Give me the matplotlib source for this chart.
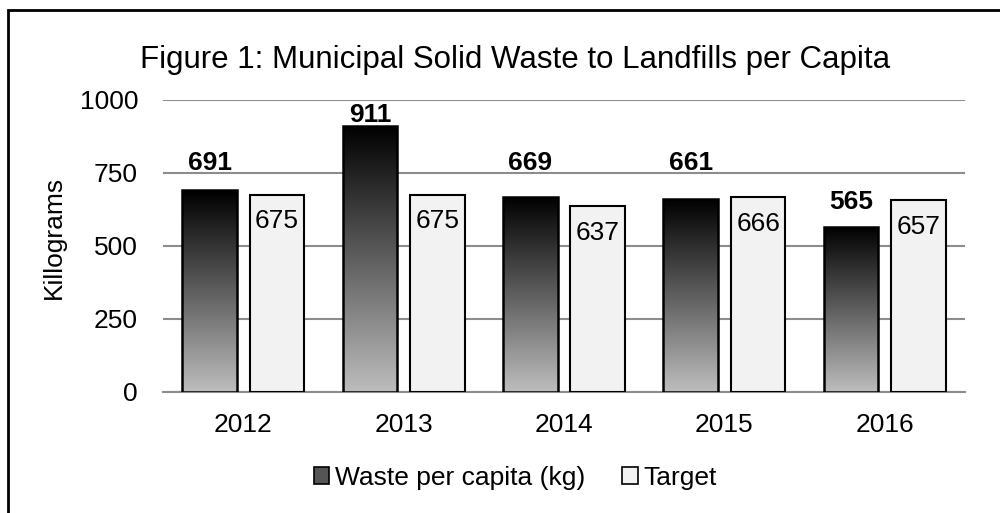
import numpy as np
import matplotlib
matplotlib.use("Agg")
import matplotlib.pyplot as plt
from matplotlib.patches import Rectangle, Patch
from matplotlib.colors import LinearSegmentedColormap

years = ['2012', '2013', '2014', '2015', '2016']
waste = [691, 911, 669, 661, 565]
target = [675, 675, 637, 666, 657]

plt.rcParams['font.family'] = ['Liberation Sans', 'DejaVu Sans']

fig = plt.figure(figsize=(10, 5.13), dpi=100)
ax = fig.add_axes([0.163, 0.2359, 0.802, 0.5693])

x = np.arange(len(years))
width = 0.34
off = 0.21

# gradient from black (top) to light grey (bottom)
grad_cmap = LinearSegmentedColormap.from_list('g', ['#bdbdbd', '#000000'])
gradient = np.linspace(0, 1, 256).reshape(-1, 1)

bars_w = ax.bar(x - off, waste, width, facecolor='none', edgecolor='black', linewidth=1.8, zorder=4)
for b in bars_w:
    bx, by = b.get_x(), b.get_y()
    im = ax.imshow(gradient, cmap=grad_cmap, aspect='auto', origin='lower',
                   extent=[bx, bx + b.get_width(), by, by + b.get_height()], zorder=3)
    im.set_clip_path(b)

bars_t = ax.bar(x + off, target, width, facecolor='#f2f2f2', edgecolor='black', linewidth=1.5, zorder=3)

# label heights as placed in the original chart (data units)
label_y = [760, 925, 760, 760, 627]
for xi, v, ly in zip(x, waste, label_y):
    ax.text(xi - off, ly, str(v), ha='center', va='baseline', fontsize=19, fontweight='bold')
for xi, v in zip(x, target):
    ax.text(xi + off, v - 50, str(v), ha='center', va='top', fontsize=19)

ax.set_xlim(-0.5, len(years) - 0.5)
ax.set_ylim(0, 1000)
ax.set_yticks([0, 250, 500, 750, 1000])
ax.set_xticks(x)
ax.set_xticklabels(years)
ax.tick_params(length=0, labelsize=19)
ax.tick_params(axis='y', pad=18)
ax.tick_params(axis='x', pad=15)
ax.yaxis.grid(True, color='#8c8c8c', linewidth=1.5)
ax.set_axisbelow(True)
for s in ['top', 'right', 'left']:
    ax.spines[s].set_visible(False)
ax.spines['bottom'].set_color('#8c8c8c')
ax.spines['bottom'].set_linewidth(1.5)

fig.text(0.054, 0.538, 'Killograms', rotation=90, ha='center', va='center', fontsize=19)
fig.text(0.515, 0.867, 'Figure 1: Municipal Solid Waste to Landfills per Capita',
         ha='center', va='baseline', fontsize=22.5)

handles = [Patch(facecolor='#555555', edgecolor='black', linewidth=1.2),
           Patch(facecolor='#f2f2f2', edgecolor='black', linewidth=1.2)]
fig.legend(handles, ['Waste per capita (kg)', 'Target'], loc='center',
           bbox_to_anchor=(0.515, 0.068), ncol=2, frameon=False, fontsize=19,
           handlelength=0.6, handleheight=0.6, handletextpad=0.2, columnspacing=1.4)

fig.patches.append(Rectangle((0.008, -0.1), 1.1, 1.0805, transform=fig.transFigure,
                             fill=False, edgecolor='black', linewidth=2, figure=fig))

fig.savefig('out.png', dpi=100)
